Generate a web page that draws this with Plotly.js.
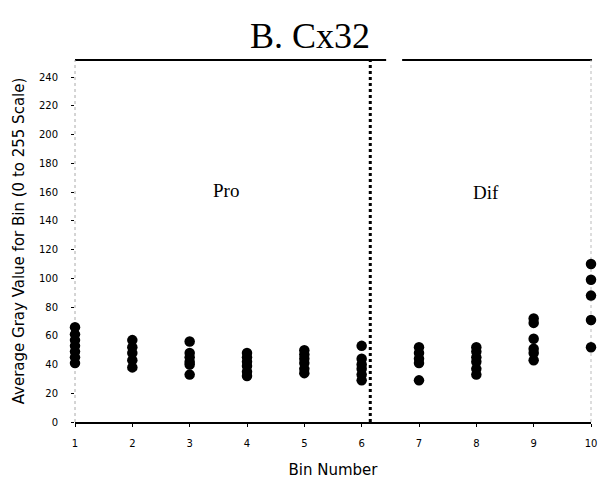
<!DOCTYPE html>
<html>
<head>
<meta charset="utf-8">
<script src="https://cdn.plot.ly/plotly-3.0.1.min.js"></script>
<style>html,body{margin:0;padding:0;background:#fff;}#chart{width:602px;height:485px;}</style>
</head>
<body>
<div id="chart"></div>
<script>
// Data
const bins = [1, 2, 3, 4, 5, 6, 7, 8, 9, 10];
const bin1 = [66, 61, 57, 53, 49, 45, 41];
const bin2 = [57, 52, 48, 43, 38];
const bin3 = [56, 48, 45, 42, 40, 33];
const bin4 = [48, 45, 42, 39, 35, 32];
const bin5 = [50, 47, 44, 41, 37, 34];
const bin6 = [53, 44, 40, 37, 33, 29];
const bin7 = [52, 48, 44, 41, 29];
const bin8 = [52, 49, 45, 42, 37, 33];
const bin9 = [72, 69, 58, 51, 48, 43];
const bin10 = [110, 99, 88, 71, 52];
const yTicks = [0, 20, 40, 60, 80, 100, 120, 140, 160, 180, 200, 220, 240];
const dividerX = 6.15;
const regionLabels = ["Pro", "Dif"];
const regionX = [3.63, 8.17];
const regionY = [161, 160];

const allBins = [bin1, bin2, bin3, bin4, bin5, bin6, bin7, bin8, bin9, bin10];
const xs = [], ys = [];
allBins.forEach((vals, i) => vals.forEach(v => { xs.push(bins[i]); ys.push(v); }));

const trace = {
  x: xs, y: ys, type: 'scatter', mode: 'markers',
  marker: {color: '#000', size: 10.5},
  cliponaxis: false, hoverinfo: 'skip', showlegend: false
};

const sans = 'DejaVu Sans, Arial, sans-serif';
const serif = 'Liberation Serif, Times New Roman, serif';

const layout = {
  width: 602, height: 485,
  margin: {l: 75, r: 11, t: 60, b: 63},
  paper_bgcolor: '#fff', plot_bgcolor: '#fff',
  title: {
    text: 'B. Cx32',
    font: {family: serif, size: 36, color: '#000'},
    x: 310 / 602, xanchor: 'center', xref: 'container',
    y: 1 - 35 / 485, yanchor: 'middle', yref: 'container'
  },
  xaxis: {
    range: [1, 10], tickvals: bins, ticktext: bins.map(String),
    showgrid: false, zeroline: false,
    showline: true, linecolor: '#000', linewidth: 2,
    ticks: 'outside', ticklen: 3, tickcolor: '#000',
    ticklabelstandoff: 8,
    tickfont: {family: sans, size: 10, color: '#000'},
    title: {text: 'Bin Number', font: {family: sans, size: 15, color: '#000'}, standoff: 16}
  },
  yaxis: {
    range: [0, 252], tickvals: yTicks, ticktext: yTicks.map(String),
    showgrid: false, zeroline: false, showline: false,
    ticks: 'outside', ticklen: 3, tickcolor: '#000',
    ticklabelstandoff: 11,
    tickfont: {family: sans, size: 10, color: '#000'},
    title: {text: 'Average Gray Value for Bin (0 to 255 Scale)', font: {family: sans, size: 15, color: '#000'}, standoff: 10}
  },
  shapes: [
    {type: 'line', layer: 'below', xref: 'paper', yref: 'paper', x0: 0, x1: 0.603, y0: 1, y1: 1, line: {color: '#000', width: 2}},
    {type: 'line', layer: 'below', xref: 'paper', yref: 'paper', x0: 0.634, x1: 1.002, y0: 1, y1: 1, line: {color: '#000', width: 2}},
    {type: 'line', layer: 'below', xref: 'paper', yref: 'paper', x0: 0, x1: 0, y0: 0, y1: 1, line: {color: '#aaa', width: 1, dash: 'dot'}},
    {type: 'line', layer: 'below', xref: 'paper', yref: 'paper', x0: 1, x1: 1, y0: 0, y1: 1, line: {color: '#bbb', width: 1, dash: 'dot'}},
    {type: 'line', layer: 'below', xref: 'x', yref: 'paper', x0: dividerX, x1: dividerX, y0: 0, y1: 1.01, line: {color: '#000', width: 3, dash: 'dot'}}
  ],
  annotations: regionLabels.map((t, i) => ({
    x: regionX[i], y: regionY[i], xref: 'x', yref: 'y', text: t, showarrow: false,
    font: {family: serif, size: 19, color: '#000'}
  }))
};

Plotly.newPlot('chart', [trace], layout, {staticPlot: true, displayModeBar: false});
</script>
</body>
</html>
